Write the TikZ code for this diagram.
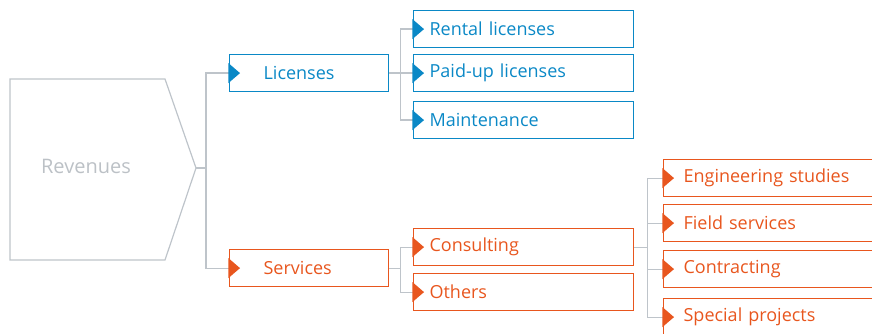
\documentclass[tikz,border=0pt]{standalone}
\usepackage{fontspec}
\setmainfont{Open Sans}
\usetikzlibrary{positioning}

\definecolor{licblue}{HTML}{0A88C6}
\definecolor{srvorange}{HTML}{E8561E}
\definecolor{linkgray}{HTML}{BEC4CA}
\definecolor{revgray}{HTML}{BCC1C6}

\tikzset{
  box/.style={draw=#1, text=#1, line width=1.2pt, anchor=north west,
    minimum height=37pt, align=left,
    font=\fontsize{18}{21}\selectfont},
  midbox/.style={box=#1, inner xsep=16pt, text width=188pt},
  farbox/.style={box=#1, inner xsep=20pt, text width=182pt},
  topbox/.style={box=#1, inner xsep=34pt, text width=91pt},
  link/.style={draw=linkgray, line width=1.2pt},
}

\begin{document}
\begin{tikzpicture}[x=1pt,y=-1pt]
  \useasboundingbox (0,0) rectangle (872,334);
  \clip (0,0) rectangle (872,334);

  % Revenues
  \draw[linkgray, line width=1.2pt] (10,79) -- (165,79) -- (196,168)
    -- (165,260) -- (10,260) -- cycle;
  \coordinate (revtip) at (196,168);
  \node[text=revgray, font=\fontsize{20}{24}\selectfont] (rev) at (86,166) {Revenues};

  % Licenses
  \node[topbox=licblue] (lic) at (229,54) {Licenses};
  \node[midbox=licblue] (rent) at (413,10) {Rental licenses};
  \node[midbox=licblue] (paid) at (413,54) {Paid-up licenses};
  \node[midbox=licblue] (maint) at (413,101) {Maintenance};

  % Services
  \node[topbox=srvorange] (srv) at (229,249) {Services};
  \node[midbox=srvorange] (cons) at (413,228) {Consulting};
  \node[midbox=srvorange] (oth) at (413,273) {Others};

  % Consulting
  \node[farbox=srvorange] (eng) at (663,159) {Engineering studies};
  \node[farbox=srvorange] (field) at (663,204) {Field services};
  \node[farbox=srvorange] (contr) at (663,250) {Contracting};
  \node[farbox=srvorange] (spec) at (663,298) {Special projects};

  % links
  \draw[link] (revtip) -- ++(10,0) |- (lic.west);
  \draw[link] (revtip) -- ++(10,0) |- (srv.west);
  \foreach \n in {rent, paid, maint}
    \draw[link] (lic.east) -- ++(11,0) |- (\n.west);
  \foreach \n in {cons, oth}
    \draw[link] (srv.east) -- ++(11,0) |- (\n.west);
  \foreach \n in {eng, field, contr, spec}
    \draw[link] (cons.east) -- ++(13,0) |- (\n.west);

  % markers
  \foreach \n/\c in {lic/licblue, rent/licblue, paid/licblue, maint/licblue,
      srv/srvorange, cons/srvorange, oth/srvorange, eng/srvorange,
      field/srvorange, contr/srvorange, spec/srvorange}
    \fill[\c] (\n.west) ++(-0.6,-10) -- ++(11.6,10) -- ++(-11.6,10) -- cycle;
\end{tikzpicture}
\end{document}
